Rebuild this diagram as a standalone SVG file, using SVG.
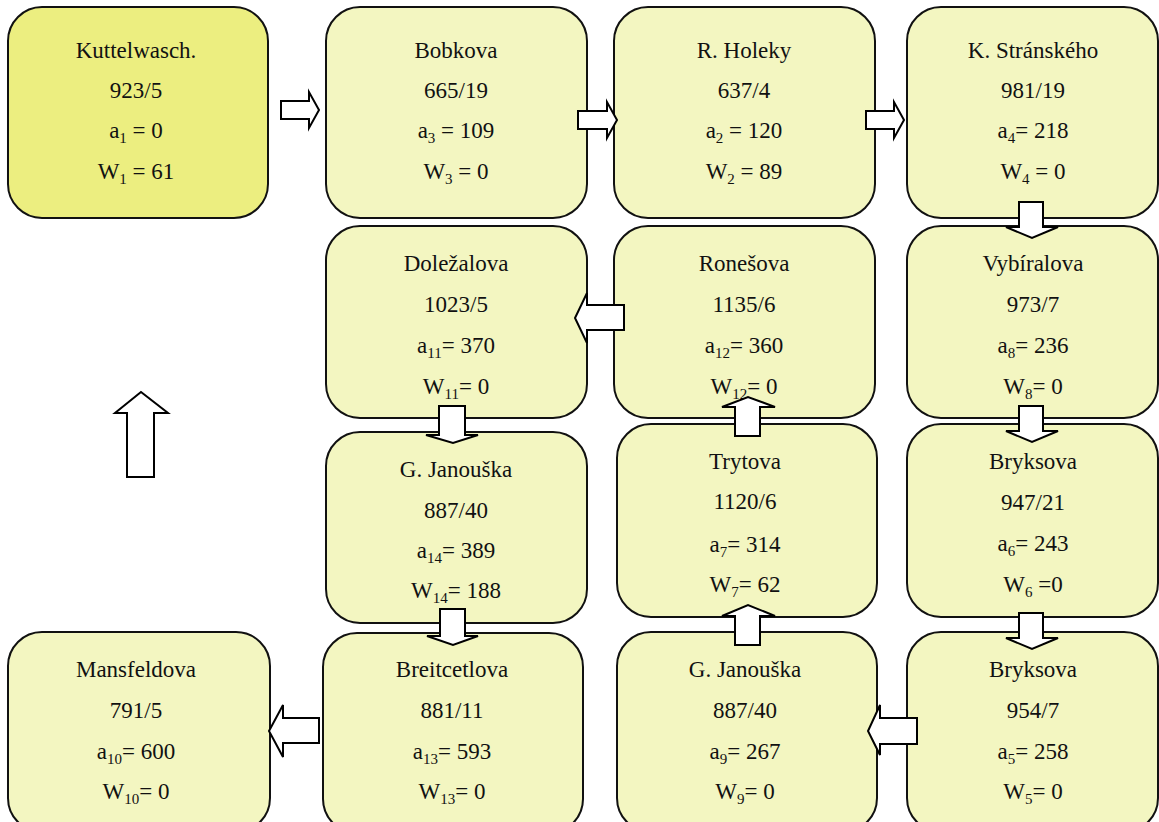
<svg xmlns="http://www.w3.org/2000/svg" width="1159" height="822" viewBox="0 0 1159 822">
  <style>
    .box { fill: #F3F6C1; stroke: #111; stroke-width: 2; }
    .start { fill: #ECEE80; }
    .lbl { font-family: "Liberation Serif", "DejaVu Serif", serif; font-size: 23px; fill: #111; text-anchor: middle; }
    .sub { font-size: 15px; }
    .arr { fill: #fff; stroke: #000; stroke-width: 2; stroke-linejoin: miter; }
  </style>
  <rect width="1159" height="822" fill="#fff"/>

  <!-- street nodes -->
  <g id="n-kuttelwasch">
    <rect class="box start" x="8" y="7" width="260" height="211" rx="34"/>
    <text class="lbl" x="136" y="58">Kuttelwasch.</text>
    <text class="lbl" x="136" y="98">923/5</text>
    <text class="lbl" x="136" y="138">a<tspan class="sub" dy="5">1</tspan><tspan dy="-5"> = 0</tspan></text>
    <text class="lbl" x="136" y="179">W<tspan class="sub" dy="5">1</tspan><tspan dy="-5"> = 61</tspan></text>
  </g>
  <g id="n-bobkova">
    <rect class="box" x="326" y="7" width="261" height="211" rx="34"/>
    <text class="lbl" x="456" y="58">Bobkova</text>
    <text class="lbl" x="456" y="98">665/19</text>
    <text class="lbl" x="456" y="138">a<tspan class="sub" dy="5">3</tspan><tspan dy="-5"> = 109</tspan></text>
    <text class="lbl" x="456" y="179">W<tspan class="sub" dy="5">3</tspan><tspan dy="-5"> = 0</tspan></text>
  </g>
  <g id="n-holeky">
    <rect class="box" x="614" y="7" width="261" height="211" rx="34"/>
    <text class="lbl" x="744" y="58">R. Holeky</text>
    <text class="lbl" x="744" y="98">637/4</text>
    <text class="lbl" x="744" y="138">a<tspan class="sub" dy="5">2</tspan><tspan dy="-5"> = 120</tspan></text>
    <text class="lbl" x="744" y="179">W<tspan class="sub" dy="5">2</tspan><tspan dy="-5"> = 89</tspan></text>
  </g>
  <g id="n-stranskeho">
    <rect class="box" x="907" y="7" width="251" height="211" rx="34"/>
    <text class="lbl" x="1033" y="58">K. Stránského</text>
    <text class="lbl" x="1033" y="98">981/19</text>
    <text class="lbl" x="1033" y="138">a<tspan class="sub" dy="5">4</tspan><tspan dy="-5">= 218</tspan></text>
    <text class="lbl" x="1033" y="179">W<tspan class="sub" dy="5">4</tspan><tspan dy="-5"> = 0</tspan></text>
  </g>

  <g id="n-dolezalova">
    <rect class="box" x="326" y="226" width="261" height="192" rx="34"/>
    <text class="lbl" x="456" y="271">Doležalova</text>
    <text class="lbl" x="456" y="312">1023/5</text>
    <text class="lbl" x="456" y="353">a<tspan class="sub" dy="5">11</tspan><tspan dy="-5">= 370</tspan></text>
    <text class="lbl" x="456" y="394">W<tspan class="sub" dy="5">11</tspan><tspan dy="-5">= 0</tspan></text>
  </g>
  <g id="n-ronesova">
    <rect class="box" x="614" y="226" width="261" height="192" rx="34"/>
    <text class="lbl" x="744" y="271">Ronešova</text>
    <text class="lbl" x="744" y="312">1135/6</text>
    <text class="lbl" x="744" y="353">a<tspan class="sub" dy="5">12</tspan><tspan dy="-5">= 360</tspan></text>
    <text class="lbl" x="744" y="394">W<tspan class="sub" dy="5">12</tspan><tspan dy="-5">= 0</tspan></text>
  </g>
  <g id="n-vybiralova">
    <rect class="box" x="907" y="226" width="251" height="192" rx="34"/>
    <text class="lbl" x="1033" y="271">Vybíralova</text>
    <text class="lbl" x="1033" y="312">973/7</text>
    <text class="lbl" x="1033" y="353">a<tspan class="sub" dy="5">8</tspan><tspan dy="-5">= 236</tspan></text>
    <text class="lbl" x="1033" y="394">W<tspan class="sub" dy="5">8</tspan><tspan dy="-5">= 0</tspan></text>
  </g>

  <g id="n-janouska-1">
    <rect class="box" x="326" y="432" width="261" height="191" rx="34"/>
    <text class="lbl" x="456" y="477">G. Janouška</text>
    <text class="lbl" x="456" y="518">887/40</text>
    <text class="lbl" x="456" y="558">a<tspan class="sub" dy="5">14</tspan><tspan dy="-5">= 389</tspan></text>
    <text class="lbl" x="456" y="598">W<tspan class="sub" dy="5">14</tspan><tspan dy="-5">= 188</tspan></text>
  </g>
  <g id="n-trytova">
    <rect class="box" x="617" y="424" width="260" height="193" rx="34"/>
    <text class="lbl" x="745" y="469">Trytova</text>
    <text class="lbl" x="745" y="509">1120/6</text>
    <text class="lbl" x="745" y="552">a<tspan class="sub" dy="5">7</tspan><tspan dy="-5">= 314</tspan></text>
    <text class="lbl" x="745" y="592">W<tspan class="sub" dy="5">7</tspan><tspan dy="-5">= 62</tspan></text>
  </g>
  <g id="n-bryksova-1">
    <rect class="box" x="907" y="424" width="251" height="193" rx="34"/>
    <text class="lbl" x="1033" y="469">Bryksova</text>
    <text class="lbl" x="1033" y="510">947/21</text>
    <text class="lbl" x="1033" y="551">a<tspan class="sub" dy="5">6</tspan><tspan dy="-5">= 243</tspan></text>
    <text class="lbl" x="1033" y="592">W<tspan class="sub" dy="5">6</tspan><tspan dy="-5"> =0</tspan></text>
  </g>

  <g id="n-mansfeldova">
    <rect class="box" x="8" y="632" width="262" height="200" rx="34"/>
    <text class="lbl" x="136" y="677">Mansfeldova</text>
    <text class="lbl" x="136" y="718">791/5</text>
    <text class="lbl" x="136" y="759">a<tspan class="sub" dy="5">10</tspan><tspan dy="-5">= 600</tspan></text>
    <text class="lbl" x="136" y="799">W<tspan class="sub" dy="5">10</tspan><tspan dy="-5">= 0</tspan></text>
  </g>
  <g id="n-breitcetlova">
    <rect class="box" x="323" y="633" width="260" height="200" rx="34"/>
    <text class="lbl" x="452" y="677">Breitcetlova</text>
    <text class="lbl" x="452" y="718">881/11</text>
    <text class="lbl" x="452" y="759">a<tspan class="sub" dy="5">13</tspan><tspan dy="-5">= 593</tspan></text>
    <text class="lbl" x="452" y="799">W<tspan class="sub" dy="5">13</tspan><tspan dy="-5">= 0</tspan></text>
  </g>
  <g id="n-janouska-2">
    <rect class="box" x="617" y="632" width="260" height="200" rx="34"/>
    <text class="lbl" x="745" y="677">G. Janouška</text>
    <text class="lbl" x="745" y="718">887/40</text>
    <text class="lbl" x="745" y="759">a<tspan class="sub" dy="5">9</tspan><tspan dy="-5">= 267</tspan></text>
    <text class="lbl" x="745" y="799">W<tspan class="sub" dy="5">9</tspan><tspan dy="-5">= 0</tspan></text>
  </g>
  <g id="n-bryksova-2">
    <rect class="box" x="907" y="632" width="251" height="200" rx="34"/>
    <text class="lbl" x="1033" y="677">Bryksova</text>
    <text class="lbl" x="1033" y="718">954/7</text>
    <text class="lbl" x="1033" y="759">a<tspan class="sub" dy="5">5</tspan><tspan dy="-5">= 258</tspan></text>
    <text class="lbl" x="1033" y="799">W<tspan class="sub" dy="5">5</tspan><tspan dy="-5">= 0</tspan></text>
  </g>

  <!-- block arrows showing the route -->
  <g id="connectors">
    <!-- right -->
    <polygon class="arr" points="281,101 309,101 309,92 319,110 309,128 309,119 281,119"/>
    <polygon class="arr" points="578,111 607,111 607,102 617,120 607,138 607,129 578,129"/>
    <polygon class="arr" points="866,111 894,111 894,102 904,120 894,138 894,129 866,129"/>
    <!-- down -->
    <polygon class="arr" points="1019,202 1043,202 1043,227 1058,227 1032,238 1006,227 1019,227"/>
    <polygon class="arr" points="1019,406 1043,406 1043,431 1058,431 1032,442 1006,431 1019,431"/>
    <polygon class="arr" points="1019,613 1043,613 1043,638 1058,638 1032,649 1006,638 1019,638"/>
    <polygon class="arr" points="439,406 465,406 465,435 478,435 453,443 426,435 439,435"/>
    <polygon class="arr" points="440,609 465,609 465,636 478,636 453,645 427,636 440,636"/>
    <!-- left -->
    <polygon class="arr" points="624,305 587,305 587,293 575,318 587,343 587,330 624,330"/>
    <polygon class="arr" points="917,718 880,718 880,705 868,731 880,755 880,744 917,744"/>
    <polygon class="arr" points="319,718 283,718 283,705 269,731 283,757 283,743 319,743"/>
    <!-- up -->
    <polygon class="arr" points="735,436 760,436 760,407 775,407 748,397 722,407 735,407"/>
    <polygon class="arr" points="735,645 760,645 760,616 775,616 748,605 722,616 735,616"/>
    <polygon class="arr" points="127,477 154,477 154,413 168,413 141,392 115,413 127,413"/>
  </g>
</svg>
